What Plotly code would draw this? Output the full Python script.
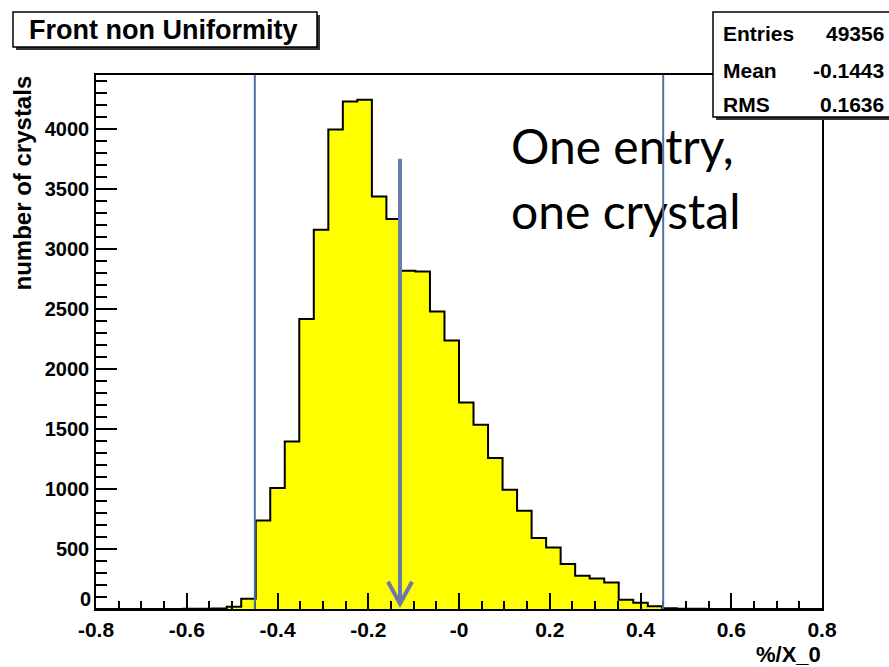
import plotly.graph_objects as go

# ---------------- data ----------------
X_MIN, X_MAX, N_BINS = -0.8, 0.8, 50
counts = [0, 0, 0, 0, 0, 1, 2, 3, 5, 18,
          85, 739, 1009, 1398, 2419, 3163, 4000, 4234, 4248, 3441,
          3253, 2822, 2815, 2482, 2240, 1723, 1537, 1259, 995, 820,
          592, 514, 375, 278, 255, 222, 78, 52, 22, 6,
          3, 2, 1, 0, 0, 0, 0, 0, 0, 0]
x_tick_vals = [-0.8, -0.6, -0.4, -0.2, 0.0, 0.2, 0.4, 0.6, 0.8]
x_tick_text = ["-0.8", "-0.6", "-0.4", "-0.2", "-0", "0.2", "0.4", "0.6", "0.8"]
y_tick_vals = [0, 500, 1000, 1500, 2000, 2500, 3000, 3500, 4000]
y_tick_text = [str(v) for v in y_tick_vals]
cut_lines = [-0.45, 0.45]
stats_labels = ["Entries", "Mean", "RMS"]
stats_values = ["49356", "-0.1443", "0.1636"]
title_text = "Front non Uniformity"
note_lines = ["One entry,", "one crystal"]
arrow_x, arrow_top, arrow_tip = -0.13, 3755, 44

# ---------------- geometry helpers ----------------
W, H = 889, 667
ML, MR, MT, MB = 96, 67, 75, 58
PW, PH = W - ML - MR, H - MT - MB
Y_MAX = 4454

def px(xp):
    return (xp - ML) / PW

def py(yp):
    return (H - MB - yp) / PH

bw = (X_MAX - X_MIN) / N_BINS
edges = [X_MIN + i * bw for i in range(N_BINS + 1)]
centers = [X_MIN + (i + 0.5) * bw for i in range(N_BINS)]

step_x = [edges[0]] + edges[:-1] + [edges[-1]]
step_y = [0] + counts + [0]

fig = go.Figure()
fig.add_trace(go.Bar(x=centers, y=counts, width=bw, marker=dict(color="#ffff00", line=dict(width=0)),
                     showlegend=False, hoverinfo="skip"))
fig.add_trace(go.Scatter(x=step_x, y=step_y, mode="lines", line=dict(color="black", width=2, shape="hv"),
                         showlegend=False, hoverinfo="skip"))

# note text as a text trace (below shapes, like in the reference)
note_x = (511 - ML) / PW * (X_MAX - X_MIN) + X_MIN
note_ys = [(H - MB - 152) / PH * Y_MAX, (H - MB - 217) / PH * Y_MAX]
fig.add_trace(go.Scatter(x=[note_x, note_x], y=note_ys, mode="text", text=note_lines,
                         textposition="middle right",
                         textfont=dict(family="Lato", size=48, color="black"),
                         showlegend=False, hoverinfo="skip", cliponaxis=False))

shapes = []
for cx in cut_lines:
    shapes.append(dict(type="line", xref="x", yref="paper", x0=cx, x1=cx, y0=0, y1=1,
                       line=dict(color="#4f73a0", width=2)))
arrow_col = "#6b7aa8"
shapes.append(dict(type="line", xref="x", yref="y", x0=arrow_x, x1=arrow_x, y0=arrow_top, y1=arrow_tip,
                   line=dict(color=arrow_col, width=4)))
hw = 12 / PW * (X_MAX - X_MIN)
hh = 22 / PH * Y_MAX
shapes.append(dict(type="path", xref="x", yref="y",
                   path=f"M {arrow_x - hw},{arrow_tip + hh} L {arrow_x},{arrow_tip} L {arrow_x + hw},{arrow_tip + hh}",
                   line=dict(color=arrow_col, width=4)))

# title box with shadow
shapes.append(dict(type="rect", xref="paper", yref="paper", x0=px(16), x1=px(320), y0=py(50), y1=py(15),
                   fillcolor="#333333", line=dict(width=0)))
shapes.append(dict(type="rect", xref="paper", yref="paper", x0=px(13), x1=px(317), y0=py(47), y1=py(12),
                   fillcolor="white", line=dict(color="black", width=1.5)))
# stats box with shadow
shapes.append(dict(type="rect", xref="paper", yref="paper", x0=px(716), x1=px(900), y0=py(120), y1=py(15),
                   fillcolor="#333333", line=dict(width=0)))
shapes.append(dict(type="rect", xref="paper", yref="paper", x0=px(713), x1=px(897), y0=py(117), y1=py(12),
                   fillcolor="white", line=dict(color="black", width=1.5)))

annotations = [
    dict(text=title_text, xref="paper", yref="paper", x=px(163), y=py(30), xanchor="center", yanchor="middle",
         showarrow=False, font=dict(family="Liberation Sans", size=27, color="black", weight="bold")),
    dict(text="%/X_0", xref="paper", yref="paper", x=px(823), y=py(654), xanchor="right", yanchor="middle",
         showarrow=False, font=dict(family="Liberation Sans", size=22, color="black", weight="bold")),
    dict(text="number of crystals", xref="paper", yref="paper", x=px(22), y=py(74), xanchor="center",
         yanchor="top", textangle=-90, showarrow=False,
         font=dict(family="Liberation Sans", size=24, color="black", weight="bold")),
    # ROOT draws the zero label of the y axis slightly raised
    dict(text=y_tick_text[0], xref="paper", yref="y", x=px(93), y=y_tick_vals[0], xanchor="right",
         yanchor="bottom", yshift=-3, showarrow=False,
         font=dict(family="Liberation Sans", size=20, color="black", weight="bold")),
]
for lab, val, yy in zip(stats_labels, stats_values, [33, 70, 104]):
    annotations.append(dict(text=lab, xref="paper", yref="paper", x=px(721), y=py(yy), xanchor="left",
                            yanchor="middle", showarrow=False,
                            font=dict(family="Liberation Sans", size=21, color="black", weight="bold")))
    annotations.append(dict(text=val, xref="paper", yref="paper", x=px(886), y=py(yy), xanchor="right",
                            yanchor="middle", showarrow=False,
                            font=dict(family="Liberation Sans", size=21, color="black", weight="bold")))

xtickfont = dict(family="Liberation Sans", size=21, color="black", weight="bold")
ytickfont = dict(family="Liberation Sans", size=20, color="black", weight="bold")
fig.update_layout(
    width=W, height=H, margin=dict(l=ML, r=MR, t=MT, b=MB, autoexpand=False),
    paper_bgcolor="white", plot_bgcolor="white", bargap=0,
    shapes=shapes, annotations=annotations,
    xaxis=dict(range=[X_MIN, X_MAX], tickmode="array", tickvals=x_tick_vals, ticktext=x_tick_text,
               ticks="inside", ticklen=16, tickwidth=1.5, tickcolor="black",
               minor=dict(dtick=0.05, tick0=X_MIN, ticks="inside", ticklen=8, tickwidth=1.5, tickcolor="black"),
               showline=True, linecolor="black", linewidth=1.5, mirror=True, showgrid=False, zeroline=False,
               tickfont=xtickfont, ticklabelstandoff=1),
    yaxis=dict(range=[0, Y_MAX], tickmode="array", tickvals=y_tick_vals,
               ticktext=[""] + y_tick_text[1:],
               ticks="inside", ticklen=21, tickwidth=1.5, tickcolor="black",
               minor=dict(dtick=100, tick0=0, ticks="inside", ticklen=11, tickwidth=1.5, tickcolor="black"),
               showline=True, linecolor="black", linewidth=1.5, mirror=True, showgrid=False, zeroline=False,
               tickfont=ytickfont, ticklabelstandoff=1),
)
fig.write_html("out.html")
